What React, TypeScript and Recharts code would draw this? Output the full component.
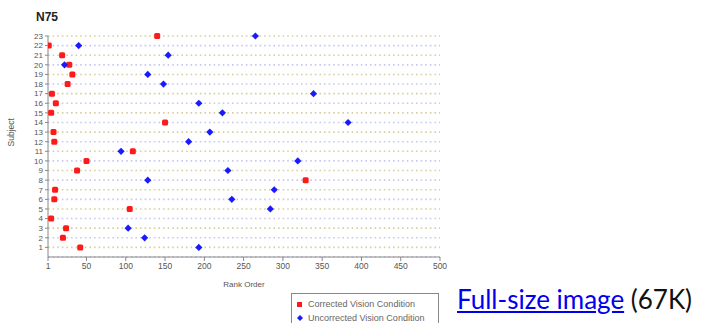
import React from "react";
import { ScatterChart, Scatter, XAxis, YAxis, CartesianGrid, Legend } from "recharts";

const subjects = [1, 2, 3, 4, 5, 6, 7, 8, 9, 10, 11, 12, 13, 14, 15, 16, 17, 18, 19, 20, 21, 22, 23];
const correctedRank = [42, 20, 24, 5, 105, 9, 10, 329, 38, 50, 109, 9, 8, 150, 5, 11, 6, 26, 32, 28, 19, 2, 140];
const uncorrectedRank: (number | null)[] = [193, 124, 103, null, 284, 235, 289, 128, 230, 319, 94, 180, 207, 383, 223, 193, 339, 148, 128, 22, 154, 40, 265];
const xTicks = [1, 50, 100, 150, 200, 250, 300, 350, 400, 450, 500];

const correctedData = subjects.map((s, i) => ({ rank: correctedRank[i], subject: s }));
const uncorrectedData = subjects
  .map((s, i) => ({ rank: uncorrectedRank[i], subject: s }))
  .filter((d) => d.rank !== null);

const RED = "#ff1a1a";
const BLUE = "#1a1aff";
const FONT = "Liberation Sans, Arial, sans-serif";

const SquareDot = (props: any) => {
  const { cx, cy } = props;
  if (cx == null || cy == null) return null;
  return <rect x={cx - 3} y={cy - 3} width={6} height={6} rx={1.5} fill={RED} />;
};

const DiamondDot = (props: any) => {
  const { cx, cy } = props;
  if (cx == null || cy == null) return null;
  return <polygon points={`${cx},${cy - 3.6} ${cx + 3.6},${cy} ${cx},${cy + 3.6} ${cx - 3.6},${cy}`} fill={BLUE} />;
};

const GridLine = (props: any) => {
  const { x1, x2, y1, y2, index } = props;
  const even = index % 2 === 0;
  return (
    <line
      x1={x1}
      x2={x2}
      y1={y1}
      y2={y2}
      stroke={even ? "#d8cfa0" : "#c8c8f0"}
      strokeWidth={1.6}
      strokeDasharray="1.6 3"
    />
  );
};

const LegendBox = () => (
  <div
    style={{
      position: "absolute",
      left: 291,
      top: 293,
      width: 148,
      height: 40,
      border: "1px solid #888",
      background: "#fff",
      fontFamily: FONT,
      fontSize: 9,
      color: "#666",
      boxSizing: "border-box",
      padding: "3px 0 0 5px",
      lineHeight: "14px",
      whiteSpace: "nowrap",
    }}
  >
    <div style={{ display: "flex", alignItems: "center" }}>
      <span style={{ display: "inline-block", width: 5, height: 5, background: RED, marginRight: 6 }} />
      Corrected Vision Condition
    </div>
    <div style={{ display: "flex", alignItems: "center" }}>
      <svg width={6} height={6} style={{ marginRight: 5 }}>
        <polygon points="3,0 6,3 3,6 0,3" fill={BLUE} />
      </svg>
      Uncorrected Vision Condition
    </div>
  </div>
);

export default function App() {
  return (
    <div style={{ position: "absolute", left: 0, top: 0, width: 705, height: 323, overflow: "hidden", background: "#fff" }}>
      <div
        style={{
          position: "absolute",
          left: 36,
          top: 11,
          fontFamily: FONT,
          fontWeight: "bold",
          fontSize: 12,
          lineHeight: 1,
          color: "#222",
        }}
      >
        N75
      </div>
      <ScatterChart width={705} height={323} margin={{ top: 36, right: 265, bottom: 46, left: 18 }}>
        <CartesianGrid vertical={false} horizontal={GridLine as any} />
        <XAxis
          type="number"
          dataKey="rank"
          domain={[1, 500]}
          ticks={xTicks}
          interval={0}
          height={20}
          stroke="#888"
          tickSize={4}
          tick={{ fontSize: 8.5, fill: "#555", fontFamily: FONT }}
          allowDataOverflow
          label={{ value: "Rank Order", position: "insideBottom", offset: -10, fontSize: 8, fill: "#555", fontFamily: FONT }}
        />
        <YAxis
          type="number"
          dataKey="subject"
          domain={[0, 23]}
          ticks={subjects}
          interval={0}
          width={30}
          stroke="#888"
          tickSize={3}
          tick={{ fontSize: 8, fill: "#555", fontFamily: FONT }}
          label={{ value: "Subject", angle: -90, position: "insideLeft", offset: -7, fontSize: 8.5, fill: "#555", fontFamily: FONT }}
        />
        <Legend content={() => null} />
        <Scatter name="Corrected Vision Condition" data={correctedData} shape={<SquareDot />} isAnimationActive={false} />
        <Scatter name="Uncorrected Vision Condition" data={uncorrectedData} shape={<DiamondDot />} isAnimationActive={false} />
      </ScatterChart>
      <LegendBox />
      <div
        style={{
          position: "absolute",
          left: 457,
          top: 284,
          fontFamily: "Lato, 'Open Sans', sans-serif",
          fontSize: 26,
          lineHeight: 1.2,
          color: "#111",
          whiteSpace: "nowrap",
        }}
      >
        <span style={{ color: "#0000ee", textDecoration: "underline" }}>Full-size image</span> (67K)
      </div>
    </div>
  );
}
